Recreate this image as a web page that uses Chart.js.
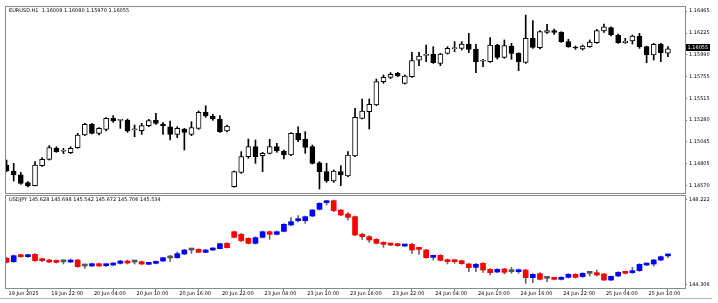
<!DOCTYPE html>
<html><head><meta charset="utf-8">
<script src="https://cdn.jsdelivr.net/npm/chart.js@4.4.1/dist/chart.umd.min.js"></script>
<style>html,body{margin:0;padding:0;background:#fff;}canvas{display:block;}</style>
</head><body>
<canvas id="c" width="718" height="303"></canvas>
<script>
const categories = [
"19 Jun 16:00","19 Jun 17:00","19 Jun 18:00","19 Jun 19:00","19 Jun 20:00","19 Jun 21:00","19 Jun 22:00","19 Jun 23:00",
"20 Jun 00:00","20 Jun 01:00","20 Jun 02:00","20 Jun 03:00","20 Jun 04:00","20 Jun 05:00","20 Jun 06:00","20 Jun 07:00",
"20 Jun 08:00","20 Jun 09:00","20 Jun 10:00","20 Jun 11:00","20 Jun 12:00","20 Jun 13:00","20 Jun 14:00","20 Jun 15:00",
"20 Jun 16:00","20 Jun 17:00","20 Jun 18:00","20 Jun 19:00","20 Jun 20:00","20 Jun 21:00","20 Jun 22:00","20 Jun 23:00",
"23 Jun 00:00","23 Jun 01:00","23 Jun 02:00","23 Jun 03:00","23 Jun 04:00","23 Jun 05:00","23 Jun 06:00","23 Jun 07:00",
"23 Jun 08:00","23 Jun 09:00","23 Jun 10:00","23 Jun 11:00","23 Jun 12:00","23 Jun 13:00","23 Jun 14:00","23 Jun 15:00",
"23 Jun 16:00","23 Jun 17:00","23 Jun 18:00","23 Jun 19:00","23 Jun 20:00","23 Jun 21:00","23 Jun 22:00","23 Jun 23:00",
"24 Jun 00:00","24 Jun 01:00","24 Jun 02:00","24 Jun 03:00","24 Jun 04:00","24 Jun 05:00","24 Jun 06:00","24 Jun 07:00",
"24 Jun 08:00","24 Jun 09:00","24 Jun 10:00","24 Jun 11:00","24 Jun 12:00","24 Jun 13:00","24 Jun 14:00","24 Jun 15:00",
"24 Jun 16:00","24 Jun 17:00","24 Jun 18:00","24 Jun 19:00","24 Jun 20:00","24 Jun 21:00","24 Jun 22:00","24 Jun 23:00",
"25 Jun 00:00","25 Jun 01:00","25 Jun 02:00","25 Jun 03:00","25 Jun 04:00","25 Jun 05:00","25 Jun 06:00","25 Jun 07:00",
"25 Jun 08:00","25 Jun 09:00","25 Jun 10:00","25 Jun 11:00","25 Jun 12:00","25 Jun 13:00"];

const tickCategories = ["19 Jun 16:00","19 Jun 22:00","20 Jun 04:00","20 Jun 10:00","20 Jun 16:00","20 Jun 22:00","23 Jun 04:00","23 Jun 10:00","23 Jun 16:00","23 Jun 22:00","24 Jun 04:00","24 Jun 10:00","24 Jun 16:00","24 Jun 22:00","25 Jun 04:00","25 Jun 10:00"];
const tickLabels = ["19 Jun 2025","19 Jun 22:00","20 Jun 04:00","20 Jun 10:00","20 Jun 16:00","20 Jun 22:00","23 Jun 04:00","23 Jun 10:00","23 Jun 16:00","23 Jun 22:00","24 Jun 04:00","24 Jun 10:00","24 Jun 16:00","24 Jun 22:00","25 Jun 04:00","25 Jun 10:00"];

const eurTicks = [1.16465,1.16225,1.15990,1.15755,1.15515,1.15280,1.15045,1.14805,1.14570];
const jpyTicks = [148.222,144.306];

const eurOpen = [
1.14793,1.14728,1.14685,1.14601,1.14569,1.14786,1.14855,1.14974,1.14942,1.14927,
1.14981,1.15119,1.15235,1.15137,1.15180,1.15300,1.15278,1.15282,1.15176,1.15165,
1.15220,1.15282,1.15238,1.15209,1.15126,1.15184,1.15126,1.15191,1.15365,1.15325,
1.15293,1.15162,1.14558,1.14713,1.14884,1.14992,1.14895,1.14920,1.14992,1.14945,
1.14902,1.15137,1.15072,1.14992,1.14818,1.14721,1.14619,1.14721,1.14674,1.14891,
1.15300,1.15372,1.15445,1.15698,1.15745,1.15789,1.15680,1.15752,1.15933,1.15984,
1.15999,1.15897,1.16006,1.16057,1.16060,1.16107,1.16049,1.15920,1.15915,1.16096,
1.15962,1.16085,1.16006,1.15908,1.16169,1.16067,1.16234,1.16252,1.16234,1.16133,
1.16071,1.16053,1.16078,1.16122,1.16248,1.16285,1.16205,1.16122,1.16140,1.16194,
1.16078,1.15988,1.16107,1.16008];
const eurHigh = [
1.14847,1.14811,1.14713,1.14612,1.14829,1.14873,1.15003,1.14992,1.14974,1.14992,
1.15137,1.15246,1.15246,1.15199,1.15307,1.15329,1.15289,1.15293,1.15228,1.15246,
1.15289,1.15354,1.15253,1.15271,1.15209,1.15191,1.15264,1.15380,1.15437,1.15343,
1.15329,1.15228,1.14728,1.14938,1.15075,1.15065,1.14931,1.15072,1.15029,1.14956,
1.15144,1.15209,1.15155,1.15010,1.14829,1.14811,1.14739,1.14786,1.14938,1.15409,
1.15510,1.15510,1.15727,1.15771,1.15796,1.15799,1.15771,1.16017,1.16017,1.16096,
1.16078,1.16006,1.16078,1.16133,1.16133,1.16223,1.16104,1.15941,1.16176,1.16104,
1.16151,1.16114,1.16013,1.16422,1.16361,1.16252,1.16321,1.16270,1.16241,1.16158,
1.16085,1.16096,1.16151,1.16266,1.16324,1.16295,1.16216,1.16169,1.16205,1.16223,
1.16085,1.16114,1.16114,1.16080];
const eurLow = [
1.14721,1.14619,1.14583,1.14554,1.14565,1.14779,1.14847,1.14931,1.14917,1.14917,
1.14974,1.15112,1.15130,1.15119,1.15162,1.15256,1.15191,1.15148,1.15101,1.15126,
1.15209,1.15235,1.15126,1.15065,1.15090,1.14956,1.15112,1.15180,1.15311,1.15278,
1.15148,1.15152,1.14551,1.14703,1.14866,1.14811,1.14721,1.14913,1.14931,1.14858,
1.14895,1.15047,1.14920,1.14804,1.14532,1.14605,1.14605,1.14569,1.14666,1.14884,
1.15293,1.15184,1.15437,1.15680,1.15731,1.15752,1.15673,1.15745,1.15872,1.15915,
1.15897,1.15872,1.15999,1.16024,1.16042,1.16013,1.15796,1.15861,1.15908,1.15944,
1.15951,1.15941,1.15818,1.15897,1.16060,1.16053,1.16223,1.16212,1.16125,1.16071,
1.16049,1.16042,1.16071,1.16114,1.16234,1.16194,1.16114,1.16114,1.16107,1.16060,
1.15904,1.15933,1.15915,1.15970];
const eurClose = [
1.14728,1.14685,1.14594,1.14565,1.14793,1.14855,1.14981,1.14938,1.14945,1.14974,
1.15119,1.15235,1.15137,1.15191,1.15300,1.15271,1.15282,1.15162,1.15182,1.15220,
1.15275,1.15246,1.15217,1.15126,1.15191,1.15148,1.15199,1.15365,1.15325,1.15293,
1.15155,1.15217,1.14721,1.14884,1.14992,1.14884,1.14920,1.14992,1.14945,1.14902,
1.15137,1.15065,1.14985,1.14811,1.14721,1.14619,1.14728,1.14685,1.14902,1.15311,
1.15380,1.15452,1.15698,1.15745,1.15778,1.15760,1.15760,1.15926,1.15977,1.15991,
1.15904,1.15999,1.16060,1.16064,1.16107,1.16049,1.15915,1.15923,1.16096,1.15962,
1.16089,1.16006,1.15915,1.16169,1.16071,1.16241,1.16252,1.16234,1.16133,1.16078,
1.16064,1.16085,1.16129,1.16252,1.16295,1.16205,1.16122,1.16140,1.16194,1.16078,
1.15988,1.16104,1.16013,1.16055];

const jpyOpen = [
145.515,145.362,145.667,145.591,145.698,145.454,145.438,145.408,145.355,145.346,
145.438,145.163,145.163,145.270,145.178,145.209,145.285,145.392,145.346,145.362,
145.239,145.285,145.392,145.530,145.545,145.713,145.897,145.927,145.790,145.897,
145.958,146.202,146.737,146.615,146.432,146.202,146.478,146.737,146.615,146.753,
147.043,147.242,147.242,147.456,147.761,148.067,148.159,147.731,147.547,147.425,
146.615,146.508,146.386,146.248,146.187,146.172,146.080,146.157,145.973,145.897,
145.561,145.652,145.454,145.423,145.408,145.255,145.102,145.285,145.010,144.888,
145.026,144.904,144.904,144.980,144.628,144.812,144.598,144.613,144.552,144.643,
144.781,144.674,144.827,144.858,144.796,144.521,144.705,144.904,144.858,144.949,
145.209,145.255,145.438,145.628];
const jpyHigh = [
145.561,145.667,145.698,145.698,145.729,145.515,145.469,145.438,145.438,145.484,
145.469,145.255,145.301,145.301,145.255,145.316,145.423,145.438,145.408,145.392,
145.316,145.392,145.561,145.652,145.805,145.927,145.927,145.958,145.927,146.004,
146.217,146.232,146.768,146.661,146.462,146.508,146.768,146.768,146.768,147.104,
147.379,147.471,147.456,147.761,148.067,148.174,148.189,147.761,147.609,147.456,
146.661,146.554,146.417,146.279,146.217,146.202,146.157,146.202,146.019,145.927,
145.667,145.683,145.484,145.454,145.438,145.285,145.285,145.316,145.041,145.041,
145.056,145.102,145.026,145.010,144.812,144.858,144.643,144.643,144.674,144.812,
144.812,144.858,144.904,144.980,144.827,144.705,144.904,144.934,145.102,145.270,
145.285,145.469,145.622,145.698];
const jpyLow = [
145.301,145.331,145.561,145.561,145.377,145.362,145.316,145.301,145.255,145.316,
145.102,145.056,145.148,145.148,145.133,145.178,145.255,145.255,145.255,145.224,
145.224,145.255,145.377,145.377,145.515,145.683,145.744,145.774,145.774,145.866,
145.943,145.989,146.447,146.279,146.172,146.172,146.447,146.386,146.585,146.722,
147.013,147.181,147.120,147.425,147.731,147.960,147.654,147.471,147.272,146.554,
146.386,146.248,146.172,146.019,146.096,146.065,146.050,145.744,145.698,145.515,
145.438,145.392,145.255,145.285,145.239,144.904,144.904,144.873,144.750,144.858,
144.796,144.827,144.827,144.368,144.399,144.521,144.445,144.521,144.521,144.613,
144.613,144.643,144.705,144.705,144.491,144.491,144.674,144.796,144.827,144.919,
145.178,145.163,145.408,145.542];
const jpyClose = [
145.331,145.637,145.591,145.667,145.408,145.408,145.346,145.331,145.355,145.423,
145.133,145.163,145.270,145.163,145.209,145.301,145.392,145.301,145.346,145.255,
145.301,145.377,145.545,145.530,145.729,145.897,145.897,145.790,145.897,145.973,
146.187,146.004,146.478,146.325,146.202,146.462,146.737,146.615,146.737,147.074,
147.196,147.272,147.425,147.731,148.037,148.144,147.700,147.502,147.395,146.585,
146.508,146.355,146.202,146.157,146.126,146.096,146.126,145.897,145.927,145.545,
145.622,145.423,145.362,145.362,145.270,145.087,145.239,144.980,144.858,145.010,
144.873,144.904,144.949,144.628,144.781,144.552,144.598,144.552,144.643,144.781,
144.643,144.827,144.827,144.750,144.521,144.689,144.873,144.827,144.949,145.239,
145.270,145.438,145.591,145.672];

const FONT = 'DejaVu Sans';
const last = categories.length - 1;
const tickIdx = tickCategories.map(c => categories.indexOf(c));

const eurWick = categories.map((c, j) => ({x: j, y: [eurLow[j], eurHigh[j]]}));
const eurBody = categories.map((c, j) => ({x: j, y: [eurOpen[j], eurClose[j]]}));
const eurFill = categories.map((c, j) => eurClose[j] >= eurOpen[j] ? '#ffffff' : '#000000');
const jpyWick = categories.map((c, j) => ({x: j, y: [jpyLow[j], jpyHigh[j]]}));
const jpyBody = categories.map((c, j) => ({x: j, y: [jpyOpen[j], jpyClose[j]]}));
const jpyFill = categories.map((c, j) => jpyClose[j] > jpyOpen[j] ? '#0000ff' : (jpyClose[j] < jpyOpen[j] ? '#ff0000' : '#555555'));

const decor = {
  id: 'decor',
  afterDraw(chart) {
    const ctx = chart.ctx;
    ctx.save();
    ctx.strokeStyle = '#8a8a8a';
    ctx.lineWidth = 1;
    ctx.strokeRect(5.5, 6.5, 680, 187);
    ctx.strokeRect(5.5, 195.5, 680, 93);
    ctx.strokeStyle = '#b8b8b8';
    ctx.beginPath(); ctx.moveTo(0, 298.5); ctx.lineTo(712, 298.5); ctx.stroke();
    ctx.font = '5px "' + FONT + '"';
    ctx.fillStyle = '#000';
    ctx.textBaseline = 'middle';
    ctx.textAlign = 'left';
    ctx.fillText('EURUSD,H1  ' + [eurOpen[last], eurHigh[last], eurLow[last], eurClose[last]].map(v => v.toFixed(5)).join(' '), 9, 11);
    ctx.fillText('USDJPY 145.628 145.698 145.542 145.672 145.706 145.534', 9, 200);
    const y = chart.scales.y.getPixelForValue(eurClose[last]);
    const yc = Math.round(y) - 1.5;
    ctx.fillStyle = '#000';
    ctx.fillRect(686, yc - 3.5, 24, 7);
    ctx.fillStyle = '#fff';
    ctx.fillText(eurClose[last].toFixed(5), 687.5, yc);
    ctx.restore();
  }
};

const tickFont = {family: FONT, size: 5};
new Chart(document.getElementById('c'), {
  type: 'bar',
  data: {
    datasets: [
      {data: eurWick, xAxisID: 'x', yAxisID: 'y', backgroundColor: '#000', barThickness: 1, grouped: false, order: 4, borderWidth: 0},
      {data: eurBody, xAxisID: 'x', yAxisID: 'y', backgroundColor: eurFill, borderColor: '#000', borderWidth: 1, borderSkipped: false, barThickness: 5, minBarLength: 1, grouped: false, order: 3},
      {data: jpyWick, xAxisID: 'x', yAxisID: 'y2', backgroundColor: '#666', barThickness: 1, grouped: false, order: 2, borderWidth: 0},
      {data: jpyBody, xAxisID: 'x', yAxisID: 'y2', backgroundColor: jpyFill, borderWidth: 0, barThickness: 5, minBarLength: 2, grouped: false, order: 1}
    ]
  },
  options: {
    responsive: false,
    animation: false,
    devicePixelRatio: 1,
    events: [],
    layout: {padding: {left: 6, top: 6, right: 0, bottom: 0}},
    plugins: {legend: {display: false}, tooltip: {enabled: false}},
    scales: {
      x: {
        type: 'linear', position: 'bottom', min: -0.08, max: 95.4, offset: false,
        afterFit: s => { s.height = 15; },
        afterBuildTicks: s => { s.ticks = tickIdx.map(v => ({value: v})); },
        ticks: {autoSkip: false, maxRotation: 0, minRotation: 0, align: 'start', labelOffset: 2, padding: 0, font: tickFont, color: '#000',
          callback: (v, i) => tickLabels[i]},
        grid: {drawOnChartArea: false, drawTicks: true, tickLength: 3, color: '#808080'},
        border: {display: false}
      },
      y: {
        type: 'linear', position: 'right', stack: 'pane', stackWeight: 187, min: 1.14489, max: 1.16520,
        afterFit: s => { s.width = 33; },
        afterBuildTicks: s => { s.ticks = eurTicks.map(v => ({value: v})); },
        ticks: {autoSkip: false, padding: 2, font: tickFont, color: '#000', callback: v => v.toFixed(5)},
        grid: {drawOnChartArea: false, tickLength: 2, color: '#808080'},
        border: {display: false}
      },
      y2: {
        type: 'linear', position: 'right', stack: 'pane', stackWeight: 95, min: 144.155, max: 148.511,
        afterFit: s => { s.width = 33; },
        afterBuildTicks: s => { s.ticks = jpyTicks.map(v => ({value: v})); },
        ticks: {autoSkip: false, padding: 2, font: tickFont, color: '#000', callback: v => v.toFixed(3)},
        grid: {drawOnChartArea: false, tickLength: 2, color: '#808080'},
        border: {display: false}
      }
    }
  },
  plugins: [decor]
});
</script>
</body></html>
